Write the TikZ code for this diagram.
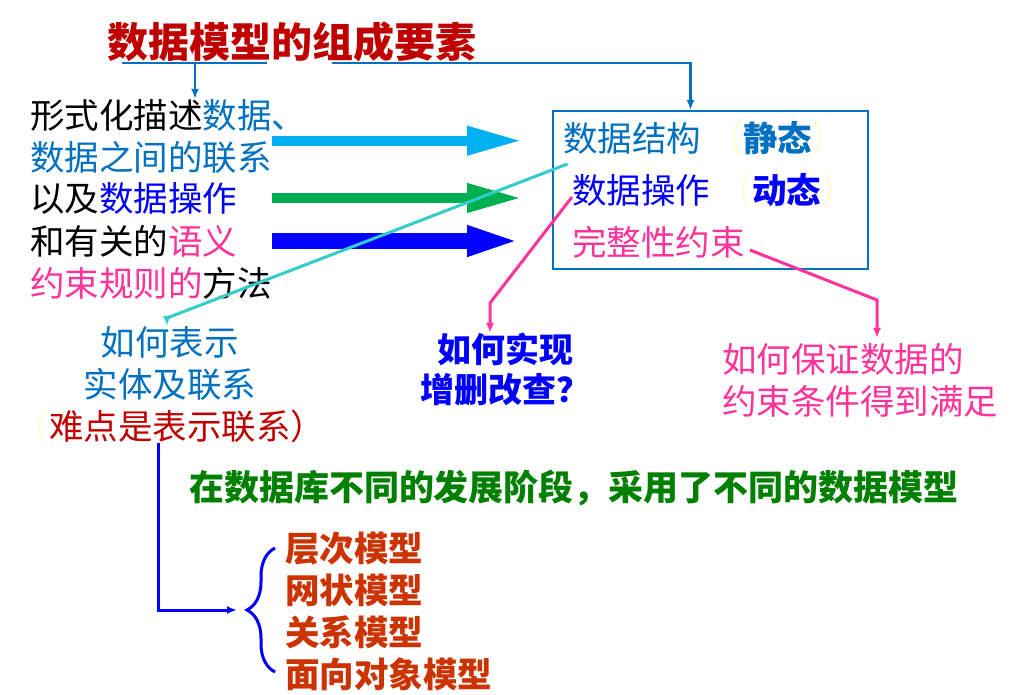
\documentclass[tikz,border=0pt]{standalone}
\usepackage{fontspec}
\setmainfont{Noto Sans CJK SC}
\usetikzlibrary{arrows.meta,calc,decorations.pathreplacing}
\definecolor{titred}{RGB}{192,0,0}
\definecolor{lblue}{RGB}{0,112,192}
\definecolor{dblue}{RGB}{0,0,255}
\definecolor{rose}{RGB}{255,51,153}
\definecolor{sky}{RGB}{0,176,240}
\definecolor{leaf}{RGB}{0,176,80}
\definecolor{teal2}{RGB}{51,204,204}
\definecolor{dgreen}{RGB}{0,128,0}
\definecolor{rust}{RGB}{204,51,0}
\definecolor{pale}{RGB}{255,250,215}

\begin{document}
\begin{tikzpicture}[x=1pt,y=-1pt,>={Latex[length=10pt,width=8pt]},
  every node/.style={inner sep=0pt,font=\fontsize{34.5}{42}\selectfont},
  link/.style={line width=3pt,->},
  fat/.style={line width=#1,-{Triangle[length=55pt,width=27pt]},shorten >=30pt}]
\fill[white] (0,0) rectangle (1021,695);
\useasboundingbox (0,0) rectangle (1021,695);
% title and its underline
\node[font=\fontsize{41}{48}\selectfont\bfseries,text=titred] (title) at (292,42) {数据模型的组成要素};
\coordinate (u) at (195,63);
% left column
\node[anchor=west] (l1) at (30,115) {形式化描述\textcolor{lblue}{数据、}};
\node[anchor=west,text=lblue] (l2) at (30,157) {数据之间的联系};
\node[anchor=west] (l3) at (30,198) {以及\textcolor{dblue}{数据操作}};
\node[anchor=west] (l4) at (30,241) {和有关的\textcolor{rose}{语义}};
\node[anchor=west] (l5) at (30,283) {\textcolor{rose}{约束规则的}方法};
% the three elements
\node[anchor=west,text=lblue] (ds) at (563,138) {数据结构 \textcolor{pale}{（}\textbf{静态}\textcolor{pale}{）}};
\node[anchor=west,text=dblue] (do) at (572,190) {数据操作 \textcolor{pale}{（}\textbf{动态}\textcolor{pale}{）}};
\node[anchor=west,text=rose] (ic) at (572,242) {完整性约束};
\node[draw=lblue,line width=2pt,minimum width=315pt,minimum height=158pt] (box) at (710.5,190) {};
% questions
\node[anchor=north,align=center,text=lblue] (rep) at (170,326) {如何表示\\实体及联系\\\textcolor{pale}{（}\textcolor{titred}{难点是表示联系）}};
\node[anchor=north,align=center,text=dblue,font=\fontsize{34}{40}\selectfont\bfseries] (how) at (505,333) {如何实现\\增删改查？};
\node[anchor=north west,align=left,text=rose] (cons) at (722,343) {如何保证数据的\\约束条件得到满足};
\node[text=dgreen,font=\fontsize{35}{42}\selectfont\bfseries] (note) at (574,488) {在数据库不同的发展阶段，采用了不同的数据模型};
\node[anchor=north west,align=left,text=rust,font=\fontsize{34.5}{42}\selectfont\bfseries] (mods) at (285,532) {层次模型\\网状模型\\关系模型\\面向对象模型};
\coordinate (t1) at (167,318);
\coordinate (p1) at (490,303);
\coordinate (p2) at (877,300);
\coordinate (bl) at (158,0);
\coordinate (bt) at (245,610);
% connectors
\draw[lblue,line width=2.5pt] (122,63) -- (267,63);
\draw[lblue,line width=2.5pt,->] (u) -- (u |- l1.north);
\draw[lblue,line width=2.5pt,->] (332,63) -| ([xshift=-20pt]box.north);
\draw[fat=10pt,sky] (l2.north east) -- (box.west |- l2.north east);
\draw[fat=10pt,leaf] (l2.east |- l3) -- (box.west |- l3);
\draw[fat=16pt,dblue] (l2.east |- l4) -- (box.west |- l4);
\draw[link,teal2] ($(ds.south west)!.5!(do.north west)$) -- (t1) -- (t1 |- rep.north);
\draw[link,rose] ([yshift=-7pt]do.west) -- (p1) -- (p1 |- how.north);
\draw[link,rose,shorten >=5pt] ([shift={(5pt,-8pt)}]ic.east) -- (p2) -- (p2 |- cons.north);
\draw[link,dblue,shorten >=8pt] (bl |- rep.south) |- (bt);
\draw[dblue,line width=3pt,decorate,decoration={brace,amplitude=28pt}] (275,672) -- (275,548);
\end{tikzpicture}
\end{document}
